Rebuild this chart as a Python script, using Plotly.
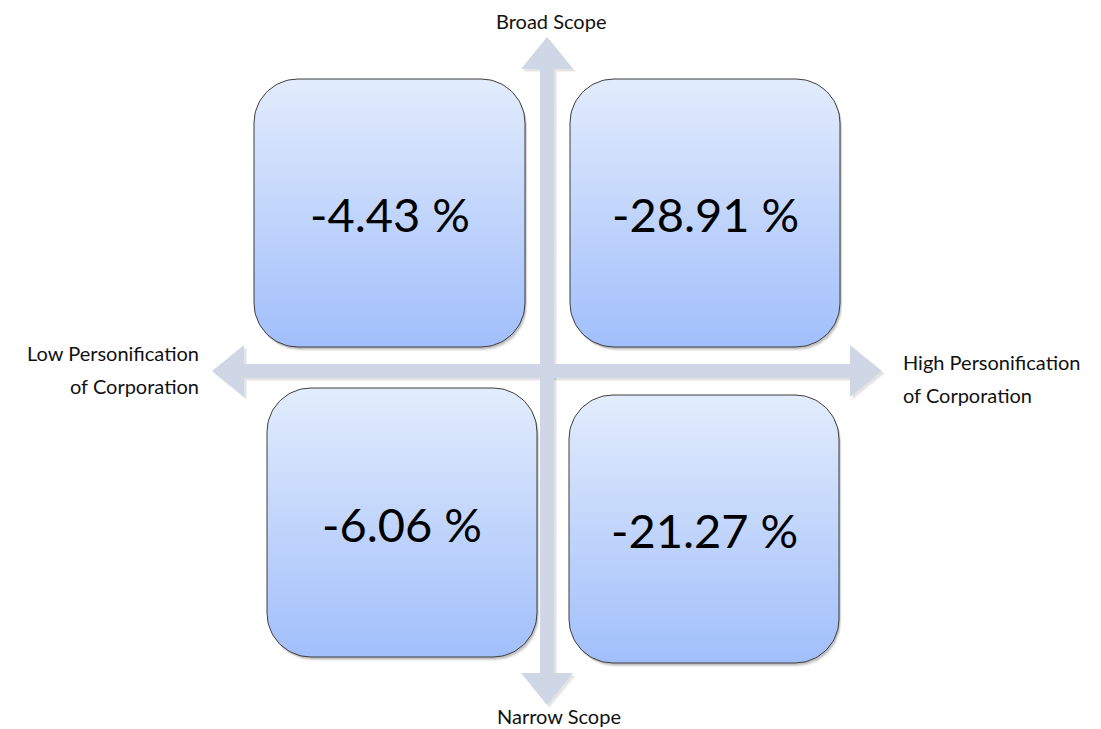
import numpy as np
import plotly.graph_objects as go

# Quadrant values (percent change) and their placement in the 2x2 grid
quadrants = ["Broad / Low", "Broad / High", "Narrow / Low", "Narrow / High"]
values = [-4.43, -28.91, -6.06, -21.27]

# Axis end labels
label_top = "Broad Scope"
label_bottom = "Narrow Scope"
label_left = ["Low Personification", "of Corporation"]
label_right = ["High Personification", "of Corporation"]

W, H = 1101, 729

# Box extents in page pixels: (x0, x1, y0, y1)
boxes = [
    (254, 525, 79, 347),
    (570, 840, 79, 347),
    (267, 537, 388, 657),
    (569, 839, 395, 663),
]
RADIUS = 44

# Cross arrows
CX, CY = 547, 371
SHAFT = 7
HEAD_W = 26
HEAD_L = 32
TOP_TIP, BOTTOM_TIP = 37, 705
LEFT_TIP, RIGHT_TIP = 212, 882

ARROW_COLOR = "#cfd6e6"
GRAD_TOP = "#e2ecfc"
GRAD_BOTTOM = "#a1bffb"
FONT = "Lato"


def rounded_rect(x0, x1, y0, y1, r, n=24):
    xs, ys = [], []
    corners = [
        (x1 - r, y0 + r, -np.pi / 2, 0),
        (x1 - r, y1 - r, 0, np.pi / 2),
        (x0 + r, y1 - r, np.pi / 2, np.pi),
        (x0 + r, y0 + r, np.pi, 1.5 * np.pi),
    ]
    for cx, cy, a0, a1 in corners:
        t = np.linspace(a0, a1, n)
        xs.extend(cx + r * np.cos(t))
        ys.extend(cy + r * np.sin(t))
    xs.append(xs[0])
    ys.append(ys[0])
    return xs, ys


def cross_arrow_polys():
    # vertical double arrow
    v = [
        (CX, TOP_TIP), (CX + HEAD_W, TOP_TIP + HEAD_L), (CX + SHAFT, TOP_TIP + HEAD_L),
        (CX + SHAFT, BOTTOM_TIP - HEAD_L), (CX + HEAD_W, BOTTOM_TIP - HEAD_L), (CX, BOTTOM_TIP),
        (CX - HEAD_W, BOTTOM_TIP - HEAD_L), (CX - SHAFT, BOTTOM_TIP - HEAD_L),
        (CX - SHAFT, TOP_TIP + HEAD_L), (CX - HEAD_W, TOP_TIP + HEAD_L), (CX, TOP_TIP),
    ]
    # horizontal double arrow
    h = [
        (LEFT_TIP, CY), (LEFT_TIP + HEAD_L, CY - HEAD_W), (LEFT_TIP + HEAD_L, CY - SHAFT),
        (RIGHT_TIP - HEAD_L, CY - SHAFT), (RIGHT_TIP - HEAD_L, CY - HEAD_W), (RIGHT_TIP, CY),
        (RIGHT_TIP - HEAD_L, CY + HEAD_W), (RIGHT_TIP - HEAD_L, CY + SHAFT),
        (LEFT_TIP + HEAD_L, CY + SHAFT), (LEFT_TIP + HEAD_L, CY + HEAD_W), (LEFT_TIP, CY),
    ]
    return v, h


fig = go.Figure()

# arrows with a faint drop shadow
v_poly, h_poly = cross_arrow_polys()
for dx, dy, col in [(3, 3, "rgba(0,0,0,0.05)"), (2, 2, "rgba(0,0,0,0.06)"), (0, 0, ARROW_COLOR)]:
    for poly in (v_poly, h_poly):
        fig.add_trace(go.Scatter(
            x=[p[0] + dx for p in poly], y=[p[1] + dy for p in poly],
            mode="lines", fill="toself", fillcolor=col, line=dict(width=0),
            hoverinfo="skip", showlegend=False,
        ))

# rounded boxes: soft shadow, gradient fill, thin outline
for (x0, x1, y0, y1), name, val in zip(boxes, quadrants, values):
    for k, alpha in [(4, 0.06), (3, 0.08), (2, 0.12)]:
        sx, sy = rounded_rect(x0 + k * 0.6, x1 + k * 0.6, y0 + k, y1 + k, RADIUS)
        fig.add_trace(go.Scatter(
            x=sx, y=sy, mode="lines", fill="toself",
            fillcolor=f"rgba(0,0,0,{alpha})", line=dict(width=0),
            hoverinfo="skip", showlegend=False,
        ))
    bx, by = rounded_rect(x0, x1, y0, y1, RADIUS)
    fig.add_trace(go.Scatter(
        x=bx, y=by, mode="lines", fill="toself",
        fillgradient=dict(type="vertical", start=y0, stop=y1,
                          colorscale=[[0, GRAD_TOP], [1, GRAD_BOTTOM]]),
        line=dict(width=1, color="#3d3d3d"),
        name=name, hoverinfo="name", showlegend=False,
    ))
    fig.add_annotation(
        x=(x0 + x1) / 2, y=(y0 + y1) / 2 + 1, text=f"{val:.2f} %",
        showarrow=False, xanchor="center", yanchor="middle",
        font=dict(family=FONT, size=47, color="#000000"),
    )

label_font = dict(family=FONT, size=20, color="#111111")
fig.add_annotation(x=CX + 4, y=21, text=label_top, showarrow=False,
                   xanchor="center", yanchor="middle", font=label_font)
fig.add_annotation(x=CX + 12, y=716, text=label_bottom, showarrow=False,
                   xanchor="center", yanchor="middle", font=label_font)
for i, line in enumerate(label_left):
    fig.add_annotation(x=201, y=353 + 33 * i, text=line, showarrow=False,
                       xanchor="right", yanchor="middle", font=label_font)
for i, line in enumerate(label_right):
    fig.add_annotation(x=901, y=362 + 33 * i, text=line, showarrow=False,
                       xanchor="left", yanchor="middle", font=label_font)

fig.update_layout(
    width=W, height=H,
    margin=dict(l=0, r=0, t=0, b=0),
    paper_bgcolor="white", plot_bgcolor="white",
    xaxis=dict(range=[0, W], visible=False, fixedrange=True),
    yaxis=dict(range=[H, 0], visible=False, fixedrange=True),
    showlegend=False,
)

fig.write_html("out.html")
